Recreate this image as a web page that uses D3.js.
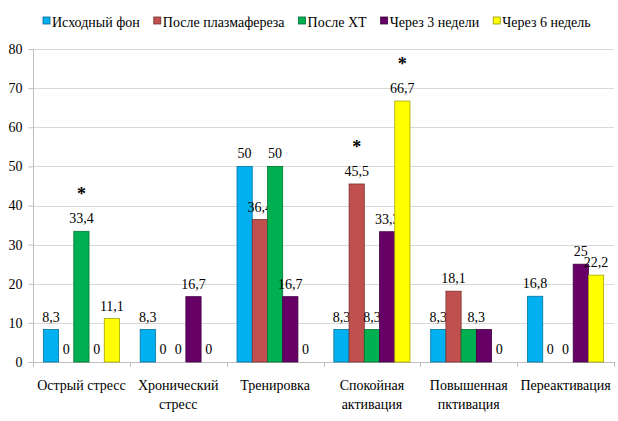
<!DOCTYPE html>
<meta charset="utf-8">
<head>
<title>Bar chart</title>
<script src="https://cdn.jsdelivr.net/npm/d3@7"></script>
<style>
  body { margin: 0; background: #fff; }
</style>
</head>
<body>
<div id="chart"></div>
<script>
// categories (label lines) and series
var categories = ["Острый стресс", "Хронический стресс", "Тренировка",
                  "Спокойная активация", "Повышенная пктивация", "Переактивация"];
var categoryLines = [["Острый стресс"], ["Хронический", "стресс"], ["Тренировка"],
                     ["Спокойная", "активация"], ["Повышенная", "пктивация"], ["Переактивация"]];
var seriesNames = ["Исходный фон", "После плазмафереза", "После ХТ", "Через 3 недели", "Через 6 недель"];
var seriesColors = ["#00b0f0", "#c0504d", "#00b050", "#660066", "#ffff00"];

var baseline  = [8.3, 8.3, 50, 8.3, 8.3, 16.8];
var afterPlasm = [0, 0, 36.4, 45.5, 18.1, 0];
var afterXT   = [33.4, 0, 50, 8.3, 8.3, 0];
var after3w   = [0, 16.7, 16.7, 33.3, 8.3, 25];
var after6w   = [11.1, 0, 0, 66.7, 0, 22.2];
var seriesValues = [baseline, afterPlasm, afterXT, after3w, after6w];

// significance marks: [category index, series index]
var starred = [[0, 2], [3, 1], [3, 4]];
// one label shared by two neighbouring equal bars: [category, series a, series b]
var sharedLabels = [[4, 2, 3]];

var yTicks = [0, 10, 20, 30, 40, 50, 60, 70, 80];

var FONT = "Liberation Serif";
var width = 618, height = 421;
var svg = d3.select("#chart").append("svg")
    .attr("width", width).attr("height", height)
    .attr("font-family", FONT);

var x = d3.scaleBand().domain(categories).range([33, 614]).padding(0);
var xs = d3.scaleBand().domain(seriesNames).range([0, x.bandwidth()])
    .paddingInner(0).paddingOuter(0.68);
var y = d3.scaleLinear().domain([0, 80]).range([362, 49]);

// grid
svg.append("g")
  .selectAll("line").data(yTicks.filter(function(d){ return d > 0; }))
  .enter().append("line")
    .attr("stroke", "#d9d9d9")
    .attr("x1", 33).attr("x2", 614)
    .attr("y1", function(d){ return Math.round(y(d)) + 0.5; })
    .attr("y2", function(d){ return Math.round(y(d)) + 0.5; });

// y axis
var yAxis = svg.append("g")
    .attr("transform", "translate(33.5,0)")
    .call(d3.axisLeft(y).tickValues(yTicks).tickSize(5).tickPadding(6)
      .tickFormat(d3.format("d")));
yAxis.attr("font-family", FONT).attr("font-size", 14);
yAxis.select(".domain").attr("stroke", "#bfbfbf").attr("d", "M0," + y(80) + "V" + y(0));
yAxis.selectAll(".tick line").attr("stroke", "#bfbfbf");
yAxis.selectAll(".tick text").attr("fill", "#000");

// x axis line + boundary ticks
svg.append("line").attr("x1", 33).attr("x2", 614)
    .attr("y1", y(0) + 0.5).attr("y2", y(0) + 0.5).attr("stroke", "#bfbfbf");
var bounds = categories.map(function(c){ return x(c); }).concat([614]);
svg.append("g").selectAll("line").data(bounds).enter().append("line")
    .attr("x1", function(d){ return Math.round(d) + 0.5; })
    .attr("x2", function(d){ return Math.round(d) + 0.5; })
    .attr("y1", y(0)).attr("y2", y(0) + 5).attr("stroke", "#bfbfbf");

// bars
var groups = svg.append("g").selectAll("g").data(categories).enter().append("g")
    .attr("transform", function(c){ return "translate(" + x(c) + ",0)"; });

groups.each(function(c, ci) {
  var g = d3.select(this);
  seriesNames.forEach(function(s, si) {
    var v = seriesValues[si][ci];
    var bx = xs(s), bw = xs.bandwidth();
    if (v > 0) {
      g.append("rect")
        .attr("x", bx).attr("y", y(v))
        .attr("width", bw).attr("height", y(0) - y(v))
        .attr("fill", seriesColors[si])
        .attr("stroke", d3.color(seriesColors[si]).darker(1.2))
        .attr("stroke-width", 0.8);
    }
    var lx = bx + bw / 2, skip = false;
    sharedLabels.forEach(function(sl) {
      if (sl[0] === ci && sl[2] === si) skip = true;
      if (sl[0] === ci && sl[1] === si) lx = (xs(seriesNames[sl[1]]) + xs(seriesNames[sl[2]]) + bw) / 2;
    });
    if (skip) return;
    g.append("text")
      .attr("x", lx).attr("y", y(v) - 8)
      .attr("text-anchor", "middle")
      .attr("font-family", FONT).attr("font-size", 14)
      .text(String(v).replace(".", ","));
  });
});

// asterisks
svg.append("g").selectAll("text").data(starred).enter().append("text")
    .attr("x", function(d){ return x(categories[d[0]]) + xs(seriesNames[d[1]]) + xs.bandwidth() / 2; })
    .attr("y", function(d){ return y(seriesValues[d[1]][d[0]]) - 31; })
    .attr("text-anchor", "middle")
    .attr("font-family", FONT).attr("font-size", 18).attr("font-weight", "bold")
    .text("*");

// category labels
svg.append("g").selectAll("text").data(categories).enter().append("text")
    .attr("x", function(c){ return x(c) + x.bandwidth() / 2; })
    .attr("y", 390)
    .attr("text-anchor", "middle")
    .attr("font-family", FONT).attr("font-size", 14)
    .each(function(c, i) {
      var t = d3.select(this);
      categoryLines[i].forEach(function(line, li) {
        t.append("tspan").attr("x", x(c) + x.bandwidth() / 2)
          .attr("dy", li ? 19 : 0).text(line);
      });
    });

// legend
var legend = svg.append("g");
var lx = 43;
seriesNames.forEach(function(s, i) {
  legend.append("rect").attr("x", lx).attr("y", 17).attr("width", 7).attr("height", 7)
    .attr("fill", seriesColors[i]).attr("stroke", d3.color(seriesColors[i]).darker(1.5))
    .attr("stroke-width", 0.8);
  var t = legend.append("text").attr("x", lx + 9).attr("y", 27)
    .attr("font-family", FONT).attr("font-size", 14).text(s);
  lx += 9 + t.node().getComputedTextLength() + 14;
});
</script>
</body>
</html>
